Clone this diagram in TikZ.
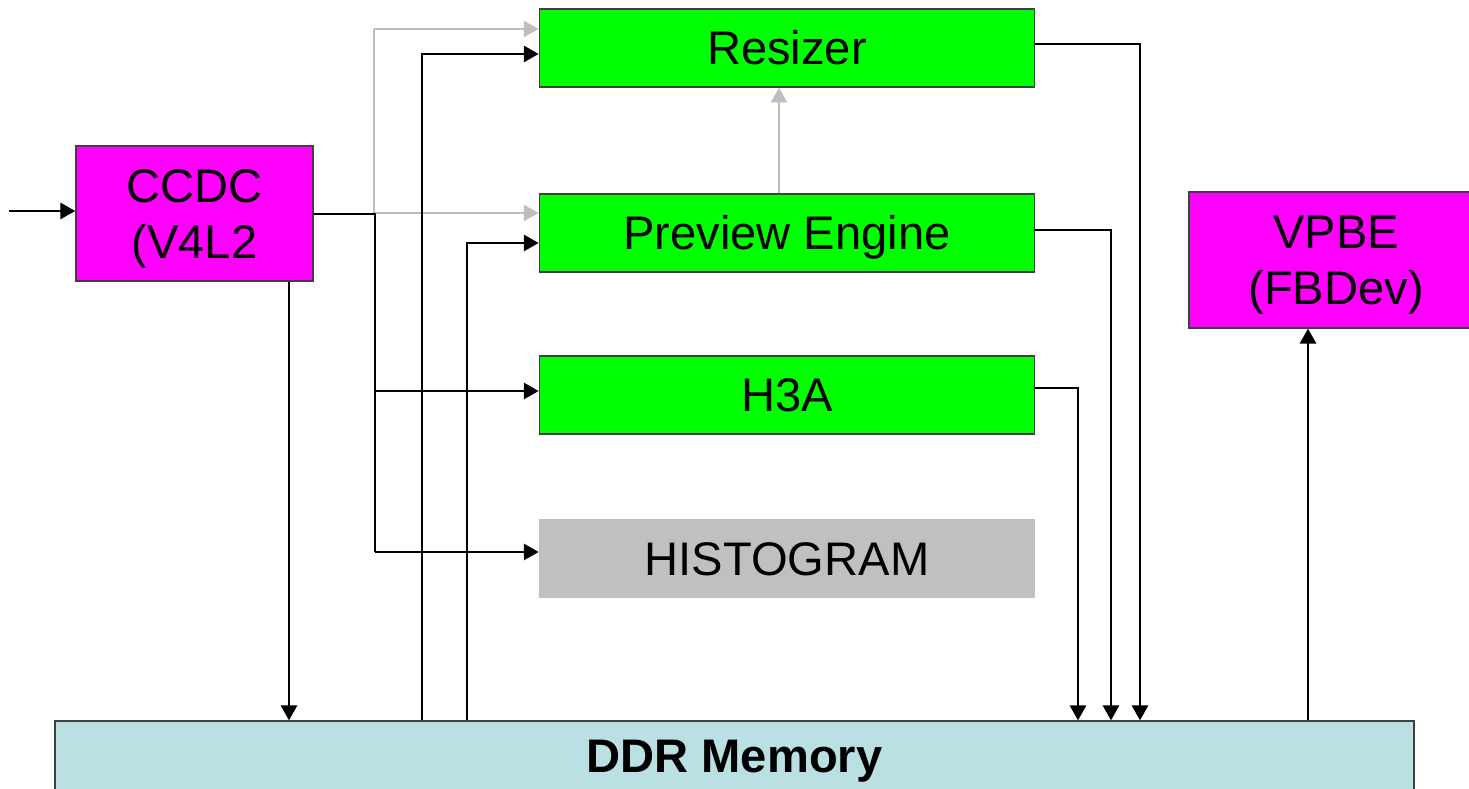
\documentclass[tikz,border=0pt]{standalone}
\usepackage{fontspec}
\setmainfont{Liberation Sans}
\usetikzlibrary{arrows.meta}

\definecolor{boxgreen}{RGB}{0,255,0}
\definecolor{boxmagenta}{RGB}{255,0,255}
\definecolor{ddrblue}{RGB}{187,224,227}
\definecolor{histgray}{RGB}{192,192,192}
\definecolor{linkgray}{RGB}{190,190,190}

\begin{document}
\begin{tikzpicture}[x=0.01cm,y=-0.01cm,
  blk/.style={draw=black!75, line width=0.4pt, inner sep=0pt, align=center,
    font=\fontsize{13.4}{15.9}\selectfont, text height=9.6pt, text depth=0pt},
  twoline/.style={text height=25.5pt, text depth=0pt},
  greenblk/.style={blk, fill=boxgreen, minimum width=4.95cm, minimum height=0.78cm},
  magblk/.style={blk, fill=boxmagenta},
  arr/.style={line width=0.6pt, black, -{Triangle[length=4.2pt,width=4.6pt]}},
  plain/.style={line width=0.6pt, black},
  garr/.style={line width=0.5pt, linkgray, -{Triangle[length=4.2pt,width=4.6pt]}},
  gline/.style={line width=0.5pt, linkgray}]
\useasboundingbox (0,0) rectangle (1469,789);

% processing blocks
\node[magblk, twoline, minimum width=2.37cm, minimum height=1.35cm] (ccdc) at (194.5,213.5) {CCDC\\(V4L2};
\node[greenblk] (resizer) at (787,48) {Resizer};
\node[greenblk] (preview) at (787,233) {Preview Engine};
\node[greenblk] (h3a) at (787,395) {H3A};
\node[blk, draw=none, fill=histgray, minimum width=4.95cm, minimum height=0.79cm] (hist) at (787,558.5) {HISTOGRAM};
\node[magblk, twoline, minimum width=2.94cm, minimum height=1.36cm] (vpbe) at (1336,260) {VPBE\\(FBDev)};
\node[blk, fill=ddrblue, minimum width=13.58cm, minimum height=0.70cm, font=\fontsize{13.4}{15.9}\selectfont\bfseries] (ddr) at (734.5,756) {DDR Memory};

% helper points for the routing
\coordinate (src) at (9,211);
\coordinate (split) at (375,214);
\coordinate (gsplit) at (374,213);
\coordinate (gtop) at (374,29);
\coordinate (ccdcdown) at (289,0);
\coordinate (rzin) at (422,54);
\coordinate (pvin) at (467,243);
\coordinate (h3ain) at (0,391);
\coordinate (histin) at (0,552);
\coordinate (rzout) at (1140,44);
\coordinate (pvout) at (1111,230);
\coordinate (h3aout) at (1078,388);
\coordinate (vpbein) at (1308,0);
\coordinate (pvup) at (779,0);

% gray paths through the previewer
\draw[gline] (gsplit) -- (gtop);
\draw[garr] (gtop) -- (gtop -| resizer.west);
\draw[garr] (gsplit) -- (gsplit -| preview.west);
\draw[garr] (preview.north -| pvup) -- (resizer.south -| pvup);

% input and CCDC fan-out
\draw[arr] (src) -- (src -| ccdc.west);
\draw[plain] (split -| ccdc.east) -- (split) -- (split |- histin);
\draw[arr] (split |- h3ain) -- (h3ain -| h3a.west);
\draw[arr] (split |- histin) -- (histin -| hist.west);
\draw[arr] (ccdc.south -| ccdcdown) -- (ddr.north -| ccdcdown);

% memory reads into the engines
\draw[arr] (ddr.north -| rzin) -- (rzin) -- (rzin -| resizer.west);
\draw[arr] (ddr.north -| pvin) -- (pvin) -- (pvin -| preview.west);

% engine outputs written to memory
\draw[arr] (rzout -| resizer.east) -- (rzout) -- (rzout |- ddr.north);
\draw[arr] (pvout -| preview.east) -- (pvout) -- (pvout |- ddr.north);
\draw[arr] (h3aout -| h3a.east) -- (h3aout) -- (h3aout |- ddr.north);

% display path
\draw[arr] (ddr.north -| vpbein) -- (vpbe.south -| vpbein);
\end{tikzpicture}
\end{document}
